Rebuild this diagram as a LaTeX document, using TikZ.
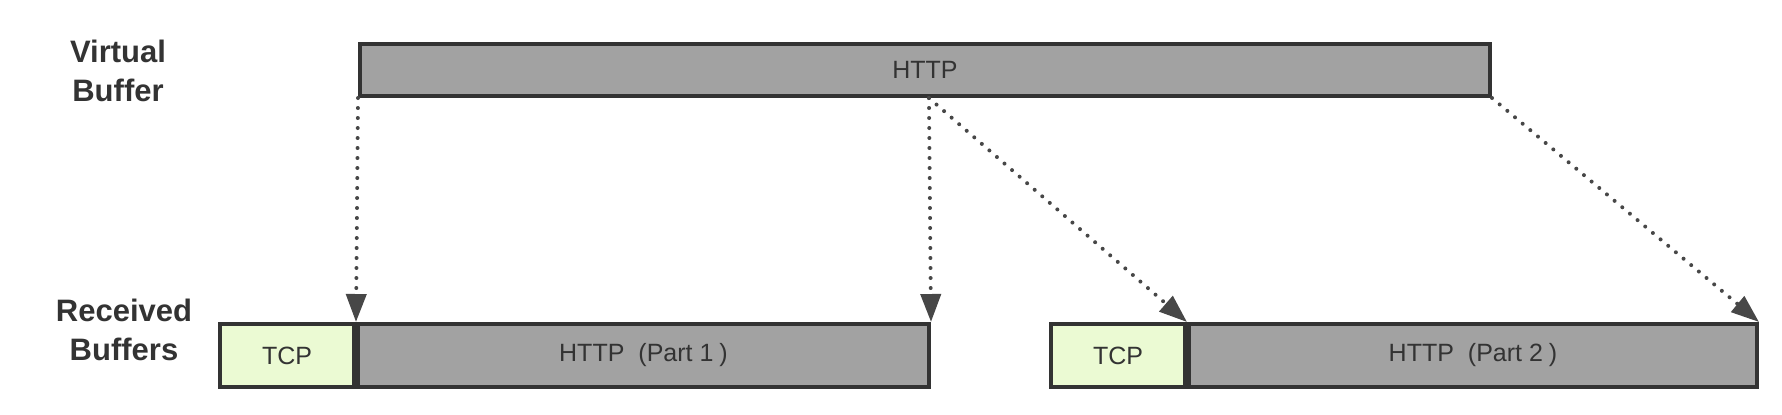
\documentclass[tikz,border=0pt]{standalone}
\usepackage{fontspec}
\setmainfont{Liberation Sans}
\usetikzlibrary{arrows.meta,calc}
\definecolor{boxgray}{HTML}{A2A2A2}
\definecolor{tcpgreen}{HTML}{EBFAD3}
\definecolor{edge}{HTML}{333333}
\definecolor{txt}{HTML}{333333}
\tikzset{
  buf/.style={draw=edge, line width=2pt, fill=boxgray, inner sep=0pt, text=txt,
    font=\fontsize{12.5}{14}\selectfont, anchor=north west},
  tcpbuf/.style={buf, fill=tcpgreen, minimum width=67pt, minimum height=31.5pt},
  lab/.style={font=\fontsize{15.5}{19.5}\selectfont\bfseries, text=txt, align=center},
  mapline/.style={draw=edge!90!white, line width=2pt, line cap=round,
    dash pattern=on 0pt off 5pt, -{Triangle[length=14pt,width=10pt]}}
}
\newcommand{\partlabel}[1]{HTTP\hspace{7pt}(Part #1\hspace{3pt})\hspace{8pt}}
\begin{document}
\begin{tikzpicture}[x=0.5pt,y=-0.5pt]
\useasboundingbox (0,0) rectangle (1782,414);
% labels
\node[lab] (lv) at (118,71) {Virtual\\Buffer};
\node[lab] (lr) at (124,330) {Received\\Buffers};
% virtual buffer
\node[buf, minimum width=565pt, minimum height=26pt] (vb) at (358,42) {HTTP};
\coordinate (vsplit) at ($(vb.south west)!0.5035!(vb.south east)$);
% received buffer 1
\node[tcpbuf] (tcp1) at (218,322) {TCP};
\node[buf, minimum width=285.5pt, minimum height=31.5pt] (http1) at (tcp1.north east) {\partlabel{1}};
% received buffer 2
\node[tcpbuf] (tcp2) at (1049,322) {TCP};
\node[buf, minimum width=284pt, minimum height=31.5pt] (http2) at (tcp2.north east) {\partlabel{2}};
% mapping arrows
\draw[mapline] (vb.south west) -- (http1.north west);
\draw[mapline] (vsplit) -- (http1.north east);
\draw[mapline] (vsplit) -- (http2.north west);
\draw[mapline] (vb.south east) -- (http2.north east);
\end{tikzpicture}
\end{document}
